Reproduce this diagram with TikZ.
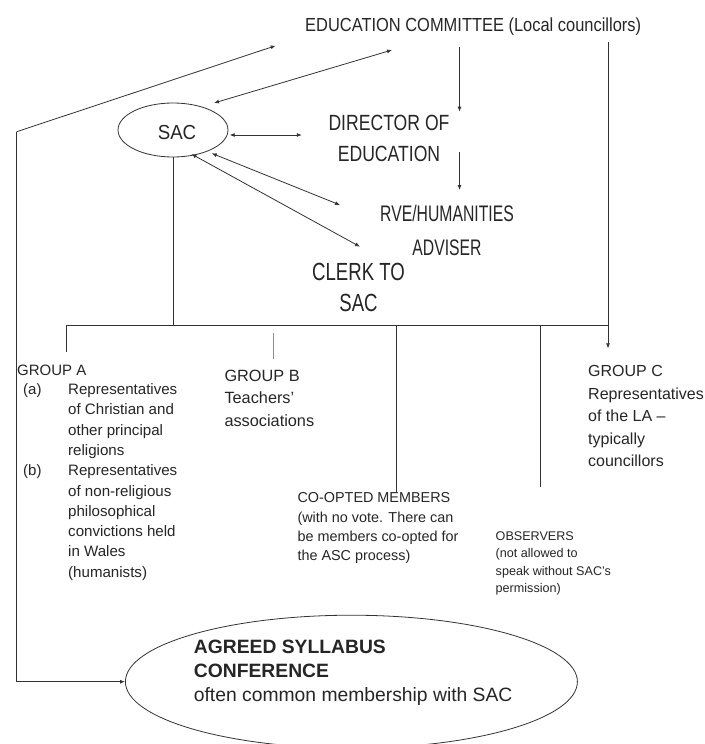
\documentclass[tikz,border=0pt]{standalone}
\usepackage{fontspec}
\setmainfont{Liberation Sans}
\newfontfamily\cA[FakeStretch=0.87]{Liberation Sans}
\newfontfamily\cB[FakeStretch=0.92]{Liberation Sans}
\newfontfamily\cC[FakeStretch=0.80]{Liberation Sans}
\newfontfamily\cD[FakeStretch=0.70]{Liberation Sans}
\newfontfamily\cE[FakeStretch=0.75]{Liberation Sans}
\usetikzlibrary{arrows.meta,shapes.geometric}
\newcommand{\tb}[4]{{\fontsize{#1}{#2}\selectfont\begin{tabular}[t]{@{}#3@{}}#4\end{tabular}}}
\begin{document}
\begin{tikzpicture}[x=1pt,y=-1pt,
  ln/.style={draw=black!80, line width=0.8pt},
  arr/.style={ln, -{Latex[length=5pt,width=4pt]}},
  darr/.style={ln, {Latex[length=5pt,width=4pt]}-{Latex[length=5pt,width=4pt]}},
  txt/.style={inner sep=0pt, text=black!85, anchor=base west},
  ctxt/.style={inner sep=0pt, text=black!85, anchor=base},
  oval/.style={ellipse, draw=black!80, line width=0.8pt, inner sep=0pt, text=black!85}]
\fill[white] (0,0) rectangle (704,744);
\useasboundingbox (0,0) rectangle (704,744);

% top labels
\node[txt] (ec) at (305,31.5) {\cA\fontsize{18.9}{23}\selectfont EDUCATION COMMITTEE (Local councillors)};
\node[oval, minimum width=110pt, minimum height=54pt] (sac) at (173,130) {};
\node[ctxt] (sact) at (177,139) {\cB\fontsize{20.3}{24}\selectfont SAC};
\node[ctxt] (dir) at (389,130.5) {\cC\tb{22}{31.2}{c}{DIRECTOR OF\\EDUCATION}};
\node[ctxt] (rve) at (447,221.7) {\cD\tb{22.5}{33.3}{c}{RVE/HUMANITIES\\ADVISER}};
\node[ctxt] (clerk) at (358.5,280) {\cE\tb{24.8}{31.7}{c}{CLERK TO\\SAC}};

% groups
\node[txt] (ga) at (17,375) {\fontsize{15}{18}\selectfont GROUP A};
\node[txt] (gaa) at (23,394.5) {\fontsize{15}{18}\selectfont (a)};
\node[txt] (gab) at (23,475.7) {\fontsize{15}{18}\selectfont (b)};
\node[txt] (gat1) at (68,394.5) {\tb{15.1}{20.3}{l}{Representatives\\of Christian and\\other principal\\religions}};
\node[txt] (gat2) at (68,475.7) {\tb{15.1}{20.3}{l}{Representatives\\of non-religious\\philosophical\\convictions held\\in Wales\\(humanists)}};
\node[txt] (gb) at (224.3,381.7) {\tb{16.3}{22.2}{l}{GROUP B\\Teachers’\\associations}};
\node[txt] (gc) at (588,376.7) {\tb{16}{22.5}{l}{GROUP C\\Representatives\\of the LA –\\typically\\councillors}};
\node[txt] (co) at (297.3,502.7) {\tb{14.4}{19.4}{l}{CO-OPTED MEMBERS\\(with no vote. There can\\be members co-opted for\\the ASC process)}};
\node[txt] (obs) at (495.5,540) {\tb{12.6}{17.6}{l}{OBSERVERS\\(not allowed to\\speak without SAC’s\\permission)}};

% conference
\node[oval, minimum width=452pt, minimum height=133pt] (asc) at (351.4,681.7) {};
\node[txt] (asct) at (193.7,653.3) {\tb{19.3}{24.2}{l}{\textbf{AGREED SYLLABUS}\\\textbf{CONFERENCE}\\often common membership with SAC}};

% coordinates
\coordinate (c1) at (16.7,131.7);
\coordinate (c2) at (275.7,45.7);
\coordinate (c3) at (16.7,681.7);
\coordinate (e2) at (392,50);
\coordinate (s2) at (214,103);
\coordinate (e3a) at (459.5,46.7);
\coordinate (e3b) at (459.5,111.7);
\coordinate (s4) at (229.7,135);
\coordinate (d4) at (301.8,135);
\coordinate (d5a) at (459.5,151.7);
\coordinate (d5b) at (459.5,190);
\coordinate (s6) at (211.7,153.3);
\coordinate (r6) at (340,205);
\coordinate (s7) at (191.4,154);
\coordinate (k7) at (360,246.7);
\coordinate (r0) at (608,41.7);
\coordinate (rE) at (608,348.3);
\coordinate (bL) at (66,325);
\coordinate (bR) at (608,325);
\coordinate (aE) at (66,351.7);
\coordinate (bT) at (273.4,333);
\coordinate (bE) at (273.4,359);
\coordinate (oT) at (396.8,325);
\coordinate (oE) at (396.8,493.3);
\coordinate (vT) at (540.5,325);
\coordinate (vE) at (540.5,486.7);

% connectors
\draw[arr] (c1) -- (c2);
\draw[arr] (c1) -- (c3) -- (asc.west);
\draw[darr] (e2) -- (s2);
\draw[arr] (e3a) -- (e3b);
\draw[darr] (s4) -- (d4);
\draw[arr] (d5a) -- (d5b);
\draw[darr] (s6) -- (r6);
\draw[darr] (s7) -- (k7);
\draw[ln] (sac.south) -- (sac.south |- bL);
\draw[arr] (r0) -- (rE);
\draw[ln] (bL) -- (bR);
\draw[ln] (bL) -- (aE);
\draw[ln, draw=black!45] (bT) -- (bE);
\draw[ln] (oT) -- (oE);
\draw[ln] (vT) -- (vE);
\end{tikzpicture}
\end{document}
